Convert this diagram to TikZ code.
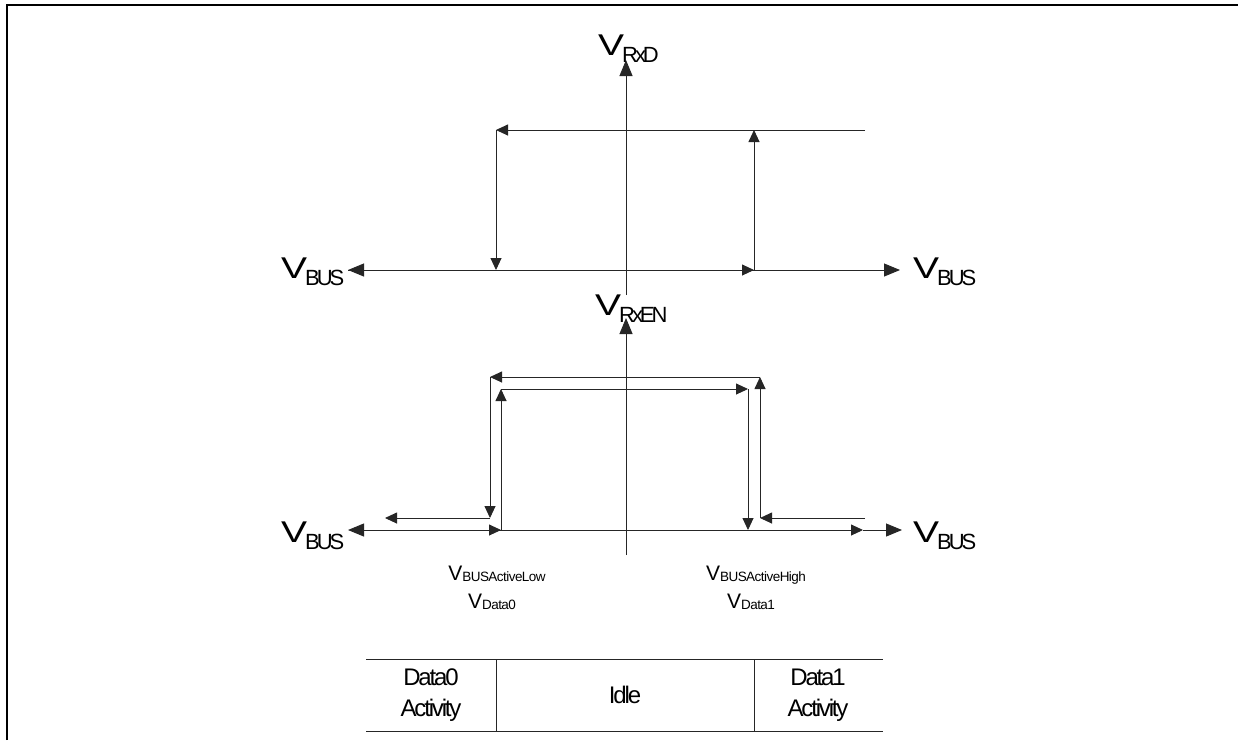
\documentclass[tikz,border=0pt]{standalone}
\usepackage{fontspec}
\setmainfont{Liberation Sans}
\usetikzlibrary{arrows.meta}
\newcommand\BigV[1]{\scalebox{1.3}[1]{\fontsize{30}{30}\selectfont V}\kern-2pt\raisebox{-7pt}{\fontsize{22}{22}\selectfont\addfontfeature{LetterSpace=-14}#1}}
\newcommand\SmV[1]{{\fontsize{21}{21}\selectfont V}\raisebox{-1pt}{\fontsize{13.5}{13.5}\selectfont\addfontfeature{LetterSpace=-4}#1}}
\tikzset{
  ln/.style={line width=0.9pt, draw=black!85},
  ax/.style={ln, -{Triangle[length=16pt,width=13pt]}},
  sa/.style={ln, -{Triangle[length=12pt,width=11pt]}},
  lbl/.style={inner sep=0pt, anchor=base west},
  tbl/.style={inner sep=0pt, align=center, font=\fontsize{24}{31}\selectfont\addfontfeature{LetterSpace=-9}},
  frame/.style={line width=2pt, draw=black}
}
\begin{document}
\begin{tikzpicture}[x=1pt,y=-1pt]
\useasboundingbox (0,0) rectangle (1238,740);
\fill[white] (0,0) rectangle (1238,740);
\draw[frame] (7,740) -- (7,5) -- (1238,5);

% ---------- top plot ----------
\coordinate (t0) at (626,295);
\coordinate (ttop) at (626,60);
\coordinate (tL) at (348,270);
\coordinate (tR) at (900,270);
\coordinate (tA) at (754,270);
\coordinate (tAu) at (754,130);
\coordinate (tB) at (496,270);
\coordinate (tBu) at (496,130);
\coordinate (tE) at (865,130);
\draw[ax] (t0) -- (ttop);
\draw[ax] (tA) -- (tL);
\draw[sa] (tL) -- (tA);
\draw[ax] (tA) -- (tR);
\draw[sa] (tA) -- (tAu);
\draw[sa] (tE) -- (tBu);
\draw[sa] (tBu) -- (tB);
\node[lbl] (lrxd) at (598,55) {\BigV{RxD}};
\node[lbl] (ltbl) at (281,278) {\BigV{BUS}};
\node[lbl] (ltbr) at (913,278) {\BigV{BUS}};

% ---------- bottom plot ----------
\coordinate (b0) at (626,555);
\coordinate (btop) at (626,318);
\coordinate (bL) at (348,530);
\coordinate (bR) at (902,530);
\coordinate (bl1) at (385,530);
\coordinate (bP) at (501,530);
\coordinate (bPu) at (501,389);
\coordinate (bQu) at (748,389);
\coordinate (bQ) at (748,530);
\coordinate (br1) at (863,530);
\coordinate (cS) at (865,518);
\coordinate (cT) at (760,518);
\coordinate (cTu) at (760,377);
\coordinate (cUu) at (490,377);
\coordinate (cU) at (490,518);
\coordinate (cE) at (385,518);
\draw[ax] (b0) -- (btop);
\draw[ax] (bP) -- (bL);
\draw[sa] (bl1) -- (bP);
\draw[ln] (bP) -- (bQ);
\draw[sa] (bP) -- (bPu);
\draw[sa] (bPu) -- (bQu);
\draw[sa] (bQu) -- (bQ);
\draw[sa] (bQ) -- (br1);
\draw[ax] (br1) -- (bR);
\draw[sa] (cS) -- (cT);
\draw[sa] (cT) -- (cTu);
\draw[sa] (cTu) -- (cUu);
\draw[sa] (cUu) -- (cU);
\draw[sa] (cU) -- (cE);
\node[lbl] (lrxen) at (595,315) {\BigV{RxEN}};
\node[lbl] (lbbl) at (281,542) {\BigV{BUS}};
\node[lbl] (lbbr) at (913,542) {\BigV{BUS}};

% threshold labels
\node[inner sep=0pt, anchor=base] (lal) at (497,580) {\SmV{BUSActiveLow}};
\node[inner sep=0pt, anchor=base] (ld0) at (492,608) {\SmV{Data0}};
\node[inner sep=0pt, anchor=base] (lah) at (756,580) {\SmV{BUSActiveHigh}};
\node[inner sep=0pt, anchor=base] (ld1) at (751,608) {\SmV{Data1}};

% ---------- table ----------
\coordinate (tb1) at (366,659);
\coordinate (tb2) at (883,659);
\coordinate (tb3) at (366,731);
\coordinate (tb4) at (883,731);
\coordinate (tv1) at (496,659);
\coordinate (tv1b) at (496,731);
\coordinate (tv2) at (754,659);
\coordinate (tv2b) at (754,731);
\draw[ln] (tb1) -- (tb2);
\draw[ln] (tb3) -- (tb4);
\draw[ln] (tv1) -- (tv1b);
\draw[ln] (tv2) -- (tv2b);
\node[tbl] (c1) at (431,695) {Data0\\Activity};
\node[tbl] (c2) at (625,695) {Idle};
\node[tbl] (c3) at (818,695) {Data1\\Activity};
\end{tikzpicture}
\end{document}
